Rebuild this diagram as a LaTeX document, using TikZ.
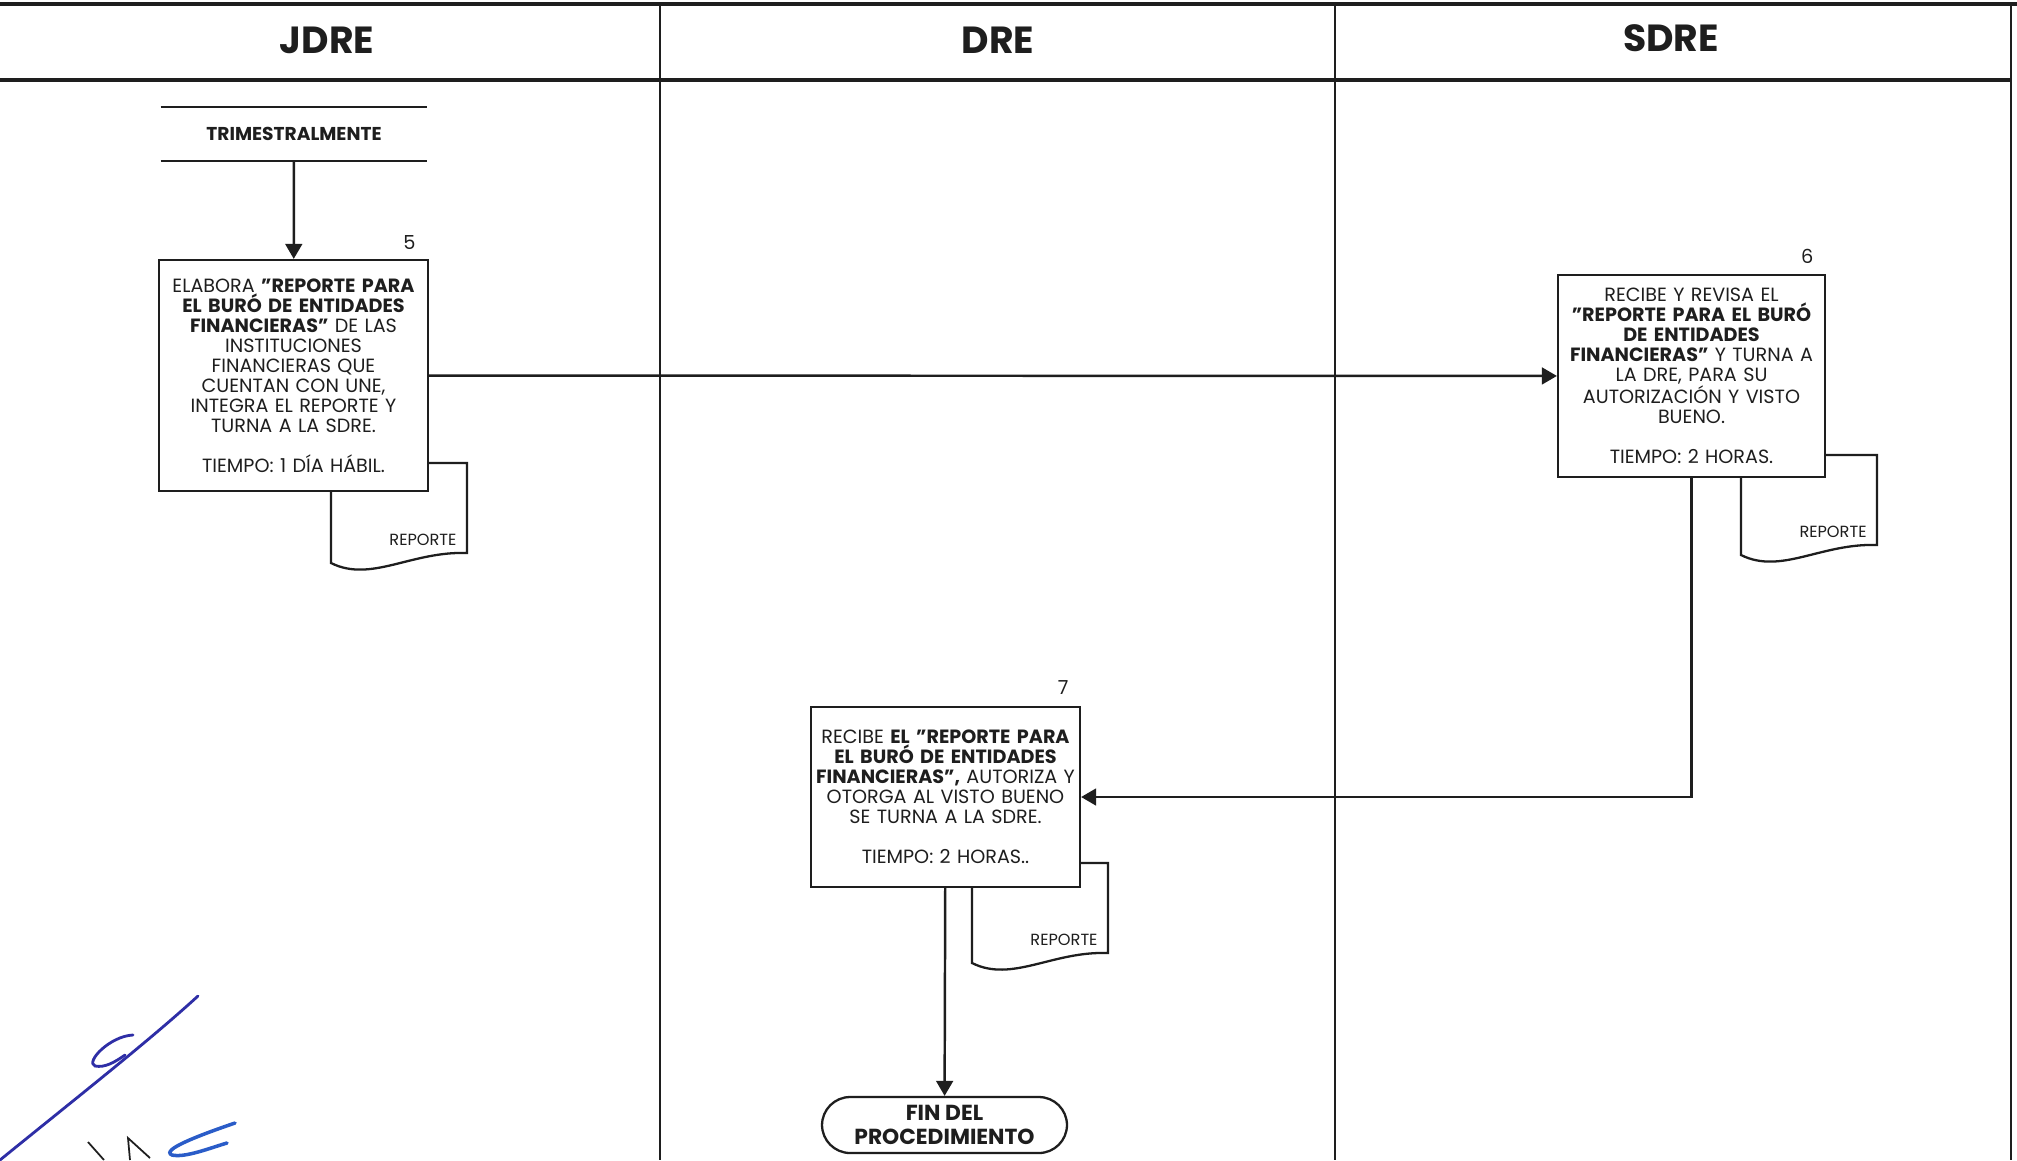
\documentclass[tikz,border=0pt]{standalone}
\usepackage{fontspec}
\setmainfont{Poppins}
\usetikzlibrary{arrows.meta,positioning}
\definecolor{Ink}{HTML}{1E1E1E}
\definecolor{Pen}{HTML}{2E2EA6}
\definecolor{PenLight}{HTML}{2A5CC8}

\begin{document}
\begin{tikzpicture}[x=0.02cm,y=-0.02cm,
    lane/.style={draw=Ink,line width=1.2pt},
    head/.style={font=\fontsize{21.5}{25}\selectfont\bfseries,text=Ink},
    proc/.style={draw=Ink,line width=1.3pt,fill=white,minimum width=5.38cm,text width=5.3cm,align=center,inner sep=0pt,font=\fontsize{10.9}{11.4}\selectfont,text=Ink},
    num/.style={inner sep=0pt,font=\fontsize{11}{12}\selectfont,text=Ink},
    freq/.style={minimum width=5.32cm,minimum height=1.08cm,inner sep=0pt,font=\fontsize{10.6}{12}\selectfont\bfseries,text=Ink},
    fin/.style={draw=Ink,line width=1.3pt,fill=white,rounded corners=16pt,minimum width=4.9cm,minimum height=1.12cm,align=center,inner sep=0pt,font=\fontsize{12.4}{13.2}\selectfont\bfseries,text=Ink},
    arr/.style={-{Triangle[length=8.5pt,width=9.5pt]},line width=1.4pt,draw=Ink},
    docline/.style={draw=Ink,line width=1.3pt,fill=white},
    reporte/.pic={
      \draw[docline] (0,0) -- (136,0) -- (136,90) .. controls (80,88) and (40,120) .. (0,100) -- cycle;
      \node[font=\fontsize{9.2}{10}\selectfont,text=Ink] (-txt) at (92,77) {REPORTE};
    }
  ]
  \fill[white] (0,0) rectangle (2017,1160);
  \useasboundingbox (0,0) rectangle (2017,1160);

  % carriles
  \draw[line width=2pt,draw=Ink] (0,4) -- (2017,4);
  \draw[line width=1.8pt,draw=Ink] (0,80) -- (2011,80);
  \draw[lane] (660,4) -- (660,1160);
  \draw[lane] (1335,4) -- (1335,1160);
  \draw[lane] (2011,4) -- (2011,1160);

  \node[head] (jdre) at (327,40) {JDRE};
  \node[head] (dre) at (998,40) {DRE};
  \node[head] (sdre) at (1671,38) {SDRE};

  % documentos
  \pic (d5) at (331,463) {reporte};
  \pic (d6) at (1741,455) {reporte};
  \pic (d7) at (972,863) {reporte};

  % actividades
  \node[freq] (trim) at (294,134) {TRIMESTRALMENTE};
  \draw[line width=1.3pt,draw=Ink] (trim.north west) -- (trim.north east) (trim.south west) -- (trim.south east);

  \node[proc,minimum height=4.62cm] (b5) at (293.5,375.5) {ELABORA \textbf{"REPORTE PARA}\\ \textbf{EL BURÓ DE ENTIDADES}\\ \textbf{FINANCIERAS"} DE LAS\\ INSTITUCIONES\\ FINANCIERAS QUE\\ CUENTAN CON UNE,\\ INTEGRA EL REPORTE Y\\ TURNA A LA SDRE.\\[\baselineskip] TIEMPO: 1 DÍA HÁBIL.};
  \node[num,above left=5pt and 7.5pt of b5.north east] (n5) {5};

  \node[proc,minimum width=5.34cm,minimum height=4.04cm] (b6) at (1691.5,376) {RECIBE Y REVISA EL\\ \textbf{"REPORTE PARA EL BURÓ}\\ \textbf{DE ENTIDADES}\\ \textbf{FINANCIERAS"} Y TURNA A\\ LA DRE, PARA SU\\ AUTORIZACIÓN Y VISTO\\ BUENO.\\[\baselineskip] TIEMPO: 2 HORAS.};
  \node[num,above left=5.5pt and 7pt of b6.north east] (n6) {6};

  \node[proc,minimum height=3.6cm] (b7) at (945.5,797) {RECIBE \textbf{EL "REPORTE PARA}\\ \textbf{EL BURÓ DE ENTIDADES}\\ \textbf{FINANCIERAS",} AUTORIZA Y\\ OTORGA AL VISTO BUENO\\ SE TURNA A LA SDRE.\\[\baselineskip] TIEMPO: 2 HORAS..};
  \node[num,above left=6pt and 7pt of b7.north east] (n7) {7};

  \node[fin] (fin) at (944.5,1125) {FIN DEL\\PROCEDIMIENTO};

  % flujo
  \draw[arr] (trim) -- (b5);
  \draw[arr] (b5) -- (b6);
  \draw[arr] (b6) |- (b7);
  \draw[arr] (b7) -- (fin);

  % rubrica
  \draw[Pen,line width=1.6pt,line cap=round] (0,1160) .. controls (80,1095) and (150,1040) .. (198,996);
  \draw[Pen,line width=1.6pt,line cap=round] (133,1035) .. controls (110,1036) and (85,1062) .. (95,1066) .. controls (105,1068) and (115,1062) .. (125,1055);
  \draw[PenLight,line width=2pt,line cap=round] (235,1123) .. controls (200,1135) and (160,1150) .. (172,1155) .. controls (185,1158) and (210,1148) .. (227,1143);
  \draw[Ink,line width=1pt] (88,1142) -- (104,1160) (130,1160) -- (128,1138) -- (150,1158);
\end{tikzpicture}
\end{document}
